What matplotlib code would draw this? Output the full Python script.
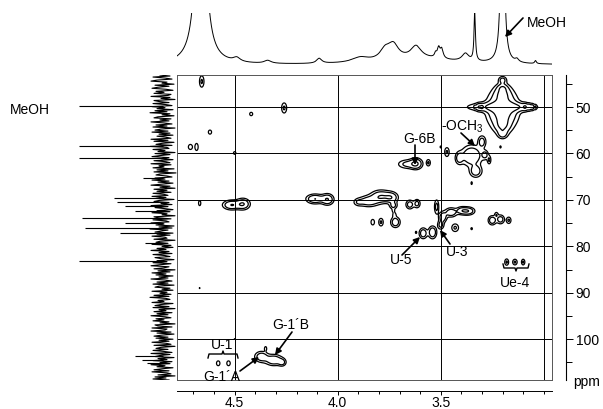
import numpy as np
import matplotlib
matplotlib.use('Agg')
import matplotlib.pyplot as plt
from matplotlib.lines import Line2D

plt.rcParams['font.family'] = ['Liberation Sans', 'DejaVu Sans']
plt.rcParams['mathtext.fontset'] = 'custom'
plt.rcParams['mathtext.rm'] = 'Liberation Sans'

W, H = 603, 409

# cross peaks: 1H shift, 13C shift, sigma H, sigma C, intensity
peak_h = [4.66, 4.26, 4.42, 4.62, 4.715, 4.685, 4.50, 4.67, 4.67,
          4.515, 4.46, 4.11, 4.05,
          3.90, 3.85, 3.79, 3.74, 3.73,
          3.65, 3.615, 3.52,
          3.49, 3.45, 3.40, 3.37,
          3.25, 3.21, 3.17, 3.23,
          3.83, 3.79, 3.72, 3.725, 3.73,
          3.43, 3.35,
          3.585, 3.54, 3.50, 3.62,
          3.18, 3.14, 3.10,
          3.20, 3.20, 3.20, 3.20, 3.20, 3.20, 3.20,
          3.315, 3.30, 3.335, 3.09, 3.07, 3.055, 3.04, 3.21,
          3.47, 3.41, 3.35, 3.30, 3.33, 3.265, 3.285, 3.50, 3.35,
          3.66, 3.62, 3.56,
          4.37, 4.31, 4.27, 4.35,
          4.58, 4.53]
peak_c = [44.5, 50.2, 51.5, 55.4, 58.6, 58.6, 59.9, 70.7, 89.0,
          71.1, 70.9, 69.8, 69.9,
          70.5, 70.3, 69.3, 69.5, 71.2,
          71.0, 70.8, 71.5,
          73.7, 72.7, 72.3, 72.4,
          74.4, 74.2, 74.4, 73.2,
          74.8, 74.8, 74.8, 73.2, 72.3,
          76.0, 76.2,
          77.2, 77.0, 75.4, 77.0,
          83.4, 83.4, 83.4,
          50.5, 50.0, 47.0, 54.0, 44.2, 45.9, 55.8,
          50.0, 50.0, 50.0, 50.0, 50.0, 50.0, 50.0, 58.6,
          59.7, 61.0, 60.5, 57.5, 63.8, 61.4, 60.3, 58.6, 66.4,
          62.3, 62.2, 62.0,
          103.8, 104.5, 105.0, 102.0,
          105.2, 105.2]
peak_sh = [0.008, 0.009, 0.008, 0.008, 0.009, 0.007, 0.007, 0.006, 0.003,
           0.025, 0.02, 0.025, 0.018,
           0.015, 0.03, 0.03, 0.02, 0.012,
           0.012, 0.01, 0.007,
           0.012, 0.018, 0.015, 0.02,
           0.012, 0.012, 0.008, 0.006,
           0.007, 0.008, 0.014, 0.006, 0.005,
           0.012, 0.005,
           0.012, 0.012, 0.01, 0.004,
           0.007, 0.008, 0.006,
           0.042, 0.09, 0.022, 0.022, 0.012, 0.014, 0.014,
           0.008, 0.005, 0.003, 0.008, 0.006, 0.005, 0.003, 0.004,
           0.008, 0.012, 0.03, 0.012, 0.018, 0.006, 0.01, 0.004, 0.004,
           0.03, 0.018, 0.007,
           0.02, 0.025, 0.012, 0.005,
           0.008, 0.008]
peak_sc = [0.9, 0.8, 0.4, 0.45, 0.5, 0.7, 0.35, 0.6, 0.2,
           0.6, 0.7, 0.6, 0.7,
           0.5, 0.7, 0.8, 0.7, 0.5,
           0.6, 0.6, 1.0,
           0.7, 0.6, 0.5, 0.5,
           0.6, 0.6, 0.5, 0.4,
           0.5, 0.6, 0.7, 0.4, 0.3,
           0.6, 0.3,
           0.7, 0.8, 0.6, 0.3,
           0.5, 0.45, 0.45,
           2.4, 0.6, 1.0, 1.0, 0.5, 0.5, 0.6,
           0.5, 0.45, 0.3, 0.5, 0.45, 0.4, 0.3, 0.3,
           0.7, 0.8, 1.3, 0.8, 0.8, 0.6, 0.6, 0.3, 0.4,
           0.6, 0.7, 0.5,
           0.7, 0.7, 0.5, 0.4,
           0.5, 0.5]
peak_amp = [2.5, 2.5, 1.5, 1.6, 1.8, 1.8, 1.4, 1.5, 1.2,
            5, 5, 5, 5,
            2, 4, 5, 4, 3,
            3.5, 3, 3,
            4, 4, 3, 5,
            4, 3.5, 2.5, 2,
            2, 2.5, 4, 1.8, 1.4,
            2.5, 1.3,
            4, 4.5, 3, 1.3,
            2.5, 2.5, 2.5,
            8, 6, 4, 4, 3, 3, 3,
            2.5, 2, 1.5, 2.5, 2.2, 2, 1.5, 1.3,
            2.5, 3.5, 5, 3.5, 4, 2.5, 3, 1.3, 1.3,
            3, 5, 2.5,
            4, 4.5, 3, 1.6,
            1.7, 1.7]

# 1D proton trace on top: position, height, half width
top_pos = [4.665, 4.49, 4.34, 4.09, 3.89, 3.77, 3.73, 3.62, 3.525, 3.51, 3.495,
           3.38, 3.335, 3.20, 3.13, 3.04, 3.60]
top_height = [300, 4, 3, 5, 5, 10, 14, 12, 4, 10, 9, 8, 50, 300, 3, 3, 6]
top_width = [0.02, 0.02, 0.02, 0.015, 0.05, 0.03, 0.03, 0.03, 0.006, 0.008, 0.008,
             0.02, 0.004, 0.007, 0.01, 0.005, 0.2]

# 1D carbon trace on the left
left_pos = [49.8, 58.4, 61.0, 65.3, 69.6, 70.5, 71.4, 72.3, 73.9, 75.0, 76.1,
            77.2, 79.3, 83.2, 103.7, 104.5, 105.2]
left_height = [84, 84, 84, 20, 49, 46, 38, 28, 81, 38, 78, 43, 18, 84, 28, 21, 16]
noise_vals = [3, -7, 10, -2, -9, 6, 12, -4, 1, -11, 8, -6, 5, 11, -3, -10, 7, -1, 9, -8,
              -5, 12, -7, 2, -12, 9, 4, -6, 10, -3, -9, 11, -2, 6, -10, 8, -4, 13, -7, 1,
              -11, 5, 9, -8, 3, -6, 12, -1, -9, 7, -4, 10, -12, 2, 8, -5, 11, -7, 4, -10,
              6, -3, -8, 12, -5, 9, -11, 1, 7, -9, 13, -4, -6, 10, -2, 5, -12, 8, -7, 3,
              11, -6, 2, -10, 9, -3, -7, 12, -8, 4, -1, 10, -11, 6, -5, 9, -13, 3, 7, -4,
              -9, 8, -2, 11, -6, 5, -10, 1, 12, -7, 3, -12, 9, -4, 6, -8, 10, -1, -5, 11,
              -3, 7, -11, 4, 9, -6, 2, -9, 12, -5, 8, -2, -10, 6, -7, 11, -4, 1, -12, 9,
              5, -8, 10, -3, -6, 12, -1, 7, -11, 4, -9, 13, -5, 2, 8, -10, 6, -7, 11, -2,
              -4, 9, -12, 3, 7, -5, 11, -8, 1, -10, 6, -3, 12, -6, 4, -9, 10, -2, -7, 8,
              2, -11, 6, -4, 10, -8, 3, 12, -6, -1, 9, -12, 5, -7, 11, -3, 7, -10, 4, -5,
              12, -2, -9, 6, -5, 10, -11, 4, 8, -7, 1, -10, 11, -4, 3, -8, 9, -6, 13, -3,
              -7, 5, -1, 11, -10, 2, 8, -6, 10, -12, 4, -3, 9, -9, 6, -5, 12, -2, -8, 7,
              -1, 10, -6, 3, -12, 8, 5, -9, 11, -4, -2, 12, -8, 6, -11, 1, 9, -5, 7, -10,
              4, -6, 11, -3, -8, 9, -12, 2, 7, -5, 10, -1, -9, 12, -7, 3, 8, -11, 5, -4,
              10, -9, 3, -7, 12, -2, 6, -10, 1, 9, -6, 11, -4, -8, 5, -12, 8, -3, 10, -6]

h_lim = (4.78, 2.96)
c_lim = (108.8, 43.1)


def fr(x0, y0, x1, y1):
    # pixel box (top-left origin) -> figure fraction rect
    return [x0 / W, 1 - y1 / H, (x1 - x0) / W, (y1 - y0) / H]


def fp(x, y):
    return (x, H - y)


fig = plt.figure(figsize=(W / 100, H / 100), dpi=100)

# main 2D panel
ax = fig.add_axes(fr(177, 75, 552, 380))
hh = np.linspace(h_lim[1], h_lim[0], 700)
cc = np.linspace(c_lim[1], c_lim[0], 700)
HH, CC = np.meshgrid(hh, cc)
Z = np.zeros_like(HH)
for h0, c0, sh, sc, a in zip(peak_h, peak_c, peak_sh, peak_sc, peak_amp):
    Z += a * np.exp(-0.5 * ((HH - h0) / sh) ** 2 - 0.5 * ((CC - c0) / sc) ** 2)
ax.contour(HH, CC, Z, levels=[1, 2.2, 5], colors='black', linewidths=0.9)
for c in [50, 60, 70, 80, 90, 100]:
    ax.axhline(c, color='black', lw=0.7)
for h in [4.5, 4.0, 3.5, 3.0]:
    ax.axvline(h, color='black', lw=0.7)
ax.set_xlim(*h_lim)
ax.set_ylim(*c_lim)
ax.set_xticks([])
ax.set_yticks([])
for s in ax.spines.values():
    s.set_linewidth(0.7)
    s.set_color('#555555')

bx = ax.secondary_xaxis(-0.036)
bx.set_xticks([4.5, 4.0, 3.5])
bx.set_xticks(np.arange(3.0, 4.75, 0.1), minor=True)
bx.tick_params(which='both', direction='out', labelsize=10, width=0.7, pad=0.5)
bx.tick_params(which='major', length=3)
bx.tick_params(which='minor', length=2.5)
bx.set_xticklabels(['4.5', '4.0', '3.5'])
bx.spines['bottom'].set_linewidth(0.7)

ry = ax.secondary_yaxis(1.037)
ry.set_yticks([50, 60, 70, 80, 90, 100])
ry.set_yticks(np.arange(45, 106, 10), minor=True)
ry.tick_params(which='both', direction='out', labelsize=10, width=0.7, pad=2)
ry.tick_params(which='major', length=5)
ry.tick_params(which='minor', length=4)
ry.spines['right'].set_linewidth(0.8)
fig.text(*fp(573, 382), 'ppm', fontsize=10, va='center', ha='left',
         transform=None)

# top projection
axt = fig.add_axes(fr(177, 13, 552, 70))
ht = np.linspace(h_lim[1], h_lim[0], 3000)
yt = np.zeros_like(ht)
for p, a, w in zip(top_pos, top_height, top_width):
    yt += a * w ** 2 / ((ht - p) ** 2 + w ** 2)
axt.plot(ht, yt, color='black', lw=0.7)
axt.set_xlim(*h_lim)
axt.set_ylim(-5, 52)
axt.axis('off')

# left projection
axl = fig.add_axes(fr(75, 75, 177, 380))
noise_c = np.linspace(c_lim[1], c_lim[0], len(noise_vals))
axl.plot(noise_vals, noise_c, color='black', lw=0.8)
axl.hlines(left_pos, 0, left_height, color='black', lw=0.8)
axl.set_xlim(88, -14)
axl.set_ylim(*c_lim)
axl.axis('off')

# labels and arrows
arrow = dict(arrowstyle='-|>', color='black', lw=1.2, mutation_scale=9,
             shrinkA=0, shrinkB=0)
fig.text(*fp(10, 110), 'MeOH', fontsize=10, va='center', ha='left', transform=None)
fig.text(*fp(527, 23), 'MeOH', fontsize=10, va='center', ha='left', transform=None)
fig.add_artist(plt.Annotation('', xy=fp(505, 37), xytext=fp(523, 18),
                              xycoords='figure pixels', arrowprops=arrow))

fig.text(*fp(420, 139), 'G-6B', fontsize=10, va='center', ha='center', transform=None)
fig.add_artist(plt.Annotation('', xy=fp(415, 165), xytext=fp(415, 145),
                              xycoords='figure pixels', arrowprops=arrow))

fig.text(*fp(441, 127), '-OCH$_\\mathregular{3}$', fontsize=10, va='center',
         ha='left', transform=None)
fig.add_artist(plt.Annotation('', xy=fp(475, 146), xytext=fp(461, 133),
                              xycoords='figure pixels', arrowprops=arrow))

fig.text(*fp(401, 260), 'U-5', fontsize=10, va='center', ha='center', transform=None)
fig.add_artist(plt.Annotation('', xy=fp(420, 237), xytext=fp(402, 255),
                              xycoords='figure pixels', arrowprops=arrow))
fig.text(*fp(457, 252), 'U-3', fontsize=10, va='center', ha='center', transform=None)
fig.add_artist(plt.Annotation('', xy=fp(440, 230), xytext=fp(450, 244),
                              xycoords='figure pixels', arrowprops=arrow))

fig.text(*fp(515, 283), 'Ue-4', fontsize=10, va='center', ha='center', transform=None)
bx_x = [503, 504, 515, 516, 517, 528, 529]
bx_y = [264, 268, 268, 271, 268, 268, 264]
fig.add_artist(Line2D([x / W for x in bx_x], [1 - y / H for y in bx_y],
                      color='black', lw=1.0))

fig.text(*fp(224, 345), 'U-1´', fontsize=10, va='center', ha='center', transform=None)
bu_x = [208, 209, 222, 223, 224, 237, 238]
bu_y = [358, 354, 354, 351, 354, 354, 358]
fig.add_artist(Line2D([x / W for x in bu_x], [1 - y / H for y in bu_y],
                      color='black', lw=1.0))

fig.text(*fp(222, 377), 'G-1´A', fontsize=10, va='center', ha='center', transform=None)
fig.add_artist(plt.Annotation('', xy=fp(259, 357), xytext=fp(240, 371),
                              xycoords='figure pixels', arrowprops=arrow))
fig.text(*fp(291, 325), 'G-1´B', fontsize=10, va='center', ha='center', transform=None)
fig.add_artist(plt.Annotation('', xy=fp(275, 355), xytext=fp(292, 332),
                              xycoords='figure pixels', arrowprops=arrow))

fig.savefig('out.png', dpi=100)
